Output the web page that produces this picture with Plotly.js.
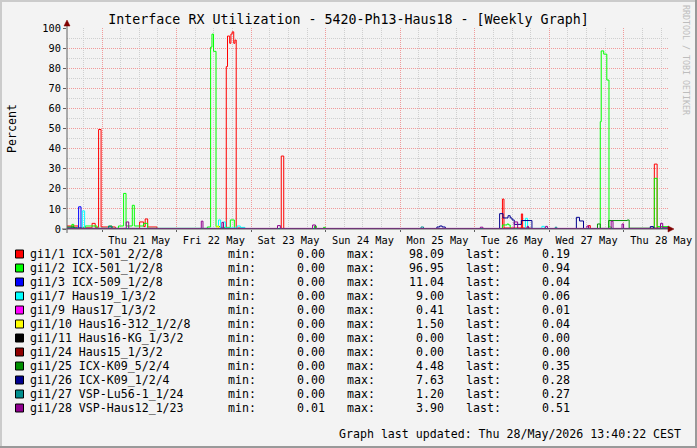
<!DOCTYPE html>
<html><head><meta charset="utf-8">
<script src="https://cdn.plot.ly/plotly-3.0.1.min.js"></script>
<style>html,body{margin:0;padding:0;background:#F3F3F3;}#chart{width:697px;height:448px;}</style>
</head><body><div id="chart"></div>
<script>
// ---- data (time = hours since 2026-05-21 00:00) ----
const names  = ["gi1/1 ICX-501_2/2/8","gi1/2 ICX-501_1/2/8","gi1/3 ICX-509_1/2/8","gi1/7 Haus19_1/3/2","gi1/9 Haus17_1/3/2","gi1/10 Haus16-312_1/2/8","gi1/11 Haus16-KG_1/3/2","gi1/24 Haus15_1/3/2","gi1/25 ICX-K09_5/2/4","gi1/26 ICX-K09_1/2/4","gi1/27 VSP-Lu56-1_1/24","gi1/28 VSP-Haus12_1/23"];
const colors = ["#FF0000","#00FF00","#0000FF","#00FFFF","#FF00FF","#FFFF00","#000000","#8F0000","#008F00","#00008F","#008F8F","#8F008F"];
const mins   = ["0.00","0.00","0.00","0.00","0.00","0.00","0.00","0.00","0.00","0.00","0.00","0.01"];
const maxs   = ["98.09","96.95","11.04","9.00","0.41","1.50","0.00","0.00","4.48","7.63","1.20","3.90"];
const lasts  = ["0.19","0.94","0.04","0.06","0.01","0.04","0.00","0.00","0.35","0.28","0.27","0.51"];

const red_t = [-11.3,-7.6,-3.2,-2.2,-1.1,-0.3,4.3,12.1,13.4,13.9,14.7,17.7,40.0,40.4,41.1,41.5,41.9,42.4,42.8,43.2,46.0,57.7,58.5,128.9,129.4,135.0,135.4,138.0,156.6,157.2,177.8,178.7,182.2];
const red_v = [1.5,0.6,2.8,0.8,49.5,1.0,0.3,3.5,1.2,5.0,1.0,0.1,80.8,96.0,92.4,97.0,98.09,92.4,94.0,0.5,0.1,36.3,0.1,14.9,0.5,7.5,0.5,0.1,1.7,0.1,32.3,0.3,0.19];
const green_t = [-11.3,-9.7,-9.1,-5.4,-1.6,5.3,6.95,7.73,9.75,10.4,13.4,14.7,33.9,34.96,35.4,35.9,36.7,38.0,41.3,42.6,68.4,69.0,71.3,71.9,128.9,130.4,130.9,131.4,160.4,160.7,161.5,162.5,163.2,164.0,177.8,178.7,182.2];
const green_v = [0.3,2.3,0.4,1.5,0.3,1.5,17.7,1.5,11.8,1.5,2.8,0.3,1.0,90.5,96.95,88.4,1.2,0.8,4.5,0.2,1.5,0.2,0.8,0.1,2.0,2.5,2.0,0.2,53.4,88.6,87.0,74.1,1.0,0.2,25.2,1.2,0.94];
const blue_t = [-11.3,-7.53,-6.76,182.2];
const blue_v = [0.5,11.04,0.2,0.04];
const cyan_t = [-11.3,-6.34,-5.6,37.5,38.2,39.1,39.7,43.5,44.5,46.0,136.3,137.0,141.6,142.4,182.2];
const cyan_v = [0.2,9.0,0.3,4.5,0.5,3.5,0.5,1.5,0.8,0.1,5.3,0.3,1.3,0.1,0.06];
const magenta_t = [-11.3,38.5,39.0,131.0,131.5,182.2];
const magenta_v = [0.1,0.41,0.1,0.3,0.05,0.01];
const yellow_t = [-11.3,37.0,37.5,182.2];
const yellow_v = [0.1,1.5,0.1,0.04];
const black_t = [-11.3,182.2];
const black_v = [0,0];
const dkred_t = [-11.3,182.2];
const dkred_v = [0,0];
const dkgreen_t = [-11.3,-9.0,-8.0,2.1,3.2,159.5,160.4,163.1,169.1,169.7,182.2];
const dkgreen_v = [1.0,0.5,0.2,1.5,0.2,2.5,0.3,4.2,4.48,0.4,0.35];
const dkblue_t = [-11.3,107.8,108.7,109.5,110.5,128.0,129.1,130.7,131.4,132.0,132.7,135.0,138.4,152.7,153.7,155.0,176.5,177.5,182.2];
const dkblue_v = [0.1,1.0,1.5,1.0,0.1,7.63,5.5,6.6,5.5,4.5,2.3,4.2,0.2,5.8,4.0,0.2,1.2,0.3,0.28];
const teal_t = [-11.3,2.1,3.2,102.7,103.5,145.9,146.4,182.2];
const teal_v = [0.3,1.2,0.1,1.0,0.1,0.9,0.1,0.27];
const purple_t = [-11.3,7.8,8.6,31.96,32.5,38.6,39.1,56.5,57.4,67.8,68.7,121.8,122.6,132.7,133.8,136.9,137.3,142.8,143.4,156.1,156.7,163.9,164.5,167.4,167.9,179.8,180.5,182.2];
const purple_v = [0.3,3.5,0.3,3.9,0.3,3.3,0.3,1.7,0.3,2.0,0.3,0.9,0.3,3.5,0.3,1.3,0.3,1.3,0.3,1.5,0.3,3.9,0.3,2.5,0.3,2.8,0.6,0.51];

const seriesT = [red_t,green_t,blue_t,cyan_t,magenta_t,yellow_t,black_t,dkred_t,dkgreen_t,dkblue_t,teal_t,purple_t];
const seriesV = [red_v,green_v,blue_v,cyan_v,magenta_v,yellow_v,black_v,dkred_v,dkgreen_v,dkblue_v,teal_v,purple_v];

const title = "Interface RX Utilization - 5420-Ph13-Haus18 - [Weekly Graph]";
const footer = "Graph last updated: Thu 28/May/2026 13:40:22 CEST";
const rangeH = [-11.27, 182.2];

// ---- helpers ----
function toDate(h){ const d=new Date(Date.UTC(2026,4,21)+Math.round(h*3600000)); return d.toISOString().replace('T',' ').slice(0,19); }
const L=67,R=668,T=28,B=229;
const px = x => (x-L)/(R-L);
const py = y => (B-y)/(B-T);
const MONO = "DejaVu Sans Mono";

const traces = seriesT.map((t,i)=>({
  type:'scatter', mode:'lines', x:t.map(toDate), y:seriesV[i],
  line:{shape:'hv', color:colors[i], width:1}, name:names[i], showlegend:false, hoverinfo:'skip'
}));

const ann = [];
const shapes = [];
names.forEach((n,i)=>{
  const yc = 254 + 14*i;
  shapes.push({type:'rect', xref:'paper', yref:'paper', x0:px(15.5), x1:px(23.5), y0:py(yc-4), y1:py(yc+4), fillcolor:colors[i], line:{color:'#000', width:1}});
  const f = {family:MONO, size:11.6, color:'#000'};
  ann.push({text:n, x:px(30), y:py(yc), xanchor:'left', yanchor:'middle', font:f});
  ann.push({text:'min:', x:px(228), y:py(yc), xanchor:'left', yanchor:'middle', font:f});
  ann.push({text:mins[i], x:px(325), y:py(yc), xanchor:'right', yanchor:'middle', font:f});
  ann.push({text:'max:', x:px(347), y:py(yc), xanchor:'left', yanchor:'middle', font:f});
  ann.push({text:maxs[i], x:px(444), y:py(yc), xanchor:'right', yanchor:'middle', font:f});
  ann.push({text:'last:', x:px(466), y:py(yc), xanchor:'left', yanchor:'middle', font:f});
  ann.push({text:lasts[i], x:px(570), y:py(yc), xanchor:'right', yanchor:'middle', font:f});
});
ann.push({text:footer, x:px(681), y:py(434), xanchor:'right', yanchor:'middle', font:{family:MONO, size:11.6, color:'#000'}});
ann.push({text:'RRDTOOL / TOBI OETIKER', x:px(686), y:py(60), xanchor:'center', yanchor:'middle', textangle:90, font:{family:MONO, size:8.3, color:'#BDBDBD'}});
ann.forEach(a=>{a.xref='paper'; a.yref='paper'; a.showarrow=false; a.borderpad=0; a.borderwidth=0;});

// frame
shapes.push({type:'rect', xref:'paper', yref:'paper', x0:px(0), x1:px(2), y0:py(0), y1:py(448), fillcolor:'#CBCBCB', line:{width:0}, layer:'below'});
shapes.push({type:'rect', xref:'paper', yref:'paper', x0:px(0), x1:px(697), y0:py(0), y1:py(2), fillcolor:'#CBCBCB', line:{width:0}, layer:'below'});
shapes.push({type:'rect', xref:'paper', yref:'paper', x0:px(695), x1:px(697), y0:py(0), y1:py(448), fillcolor:'#999999', line:{width:0}, layer:'below'});
shapes.push({type:'rect', xref:'paper', yref:'paper', x0:px(0), x1:px(697), y0:py(446), y1:py(448), fillcolor:'#999999', line:{width:0}, layer:'below'});
// axes + arrows
shapes.push({type:'line', xref:'paper', yref:'paper', x0:px(62), x1:px(670), y0:py(229), y1:py(229), line:{color:'#606060', width:1}});
shapes.push({type:'line', xref:'paper', yref:'paper', x0:px(67), x1:px(67), y0:py(233), y1:py(23), line:{color:'#606060', width:1}});
shapes.push({type:'path', xref:'paper', yref:'paper', path:`M ${px(668)},${py(226)} L ${px(674)},${py(229)} L ${px(668)},${py(232)} Z`, fillcolor:'#7F0000', line:{color:'#7F0000', width:0.5}});
shapes.push({type:'path', xref:'paper', yref:'paper', path:`M ${px(64)},${py(26)} L ${px(67)},${py(20)} L ${px(70)},${py(26)} Z`, fillcolor:'#7F0000', line:{color:'#7F0000', width:0.5}});

const MAJ='#F09A9A', MIN='#CFCFCF';
const layout = {
  width:697, height:448, paper_bgcolor:'#F3F3F3', plot_bgcolor:'#F3F3F3',
  margin:{l:L, r:697-R, t:T, b:448-B, pad:0},
  title:{text:title, x:0.5, xref:'container', xanchor:'center', y:1-19/448, yref:'container', yanchor:'middle', font:{family:MONO, size:13.3, color:'#000'}},
  xaxis:{type:'date', range:[toDate(rangeH[0]), toDate(rangeH[1])], tick0:'2026-05-21', dtick:86400000, tickformat:'%a %d %b', ticklabelmode:'period',
    showgrid:true, gridcolor:MAJ, griddash:'1px,1px', gridwidth:1,
    minor:{dtick:21600000, showgrid:true, gridcolor:MIN, griddash:'1px,1px', gridwidth:1},
    ticks:'outside', ticklen:2, tickcolor:'#606060', zeroline:false, showline:false, fixedrange:true,
    tickfont:{family:MONO, size:10.3, color:'#000'}},
  yaxis:{range:[0,100], tick0:0, dtick:10, showgrid:true, gridcolor:MAJ, griddash:'1px,1px', gridwidth:1,
    minor:{dtick:5, tick0:0, showgrid:true, gridcolor:MIN, griddash:'1px,1px', gridwidth:1},
    ticks:'outside', ticklen:3, tickcolor:'#606060', zeroline:false, showline:false, fixedrange:true,
    tickfont:{family:MONO, size:10.3, color:'#000'},
    title:{text:'Percent', standoff:23, font:{family:MONO, size:11.6, color:'#000'}}},
  showlegend:false, annotations:ann, shapes:shapes
};
Plotly.newPlot('chart', traces, layout, {displayModeBar:false, staticPlot:true});
</script></body></html>
